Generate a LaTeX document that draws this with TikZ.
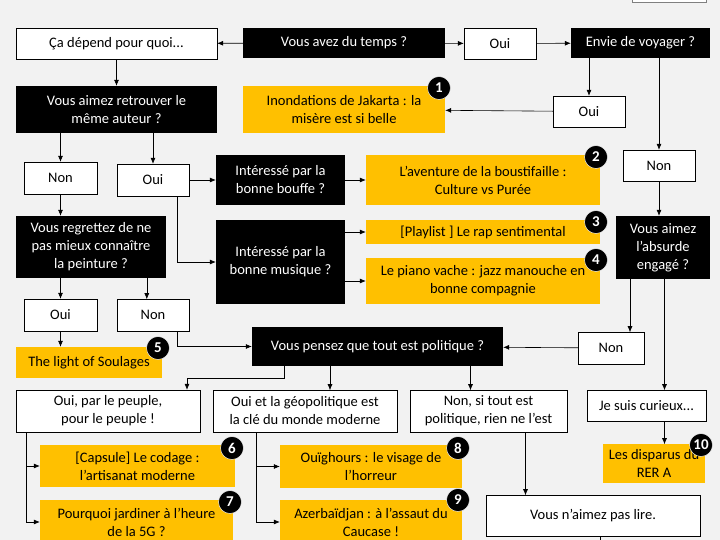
\documentclass[tikz,border=0pt]{standalone}
\usepackage{fontspec}
\setmainfont{Carlito}
\usetikzlibrary{arrows.meta}
\definecolor{fond}{HTML}{F2F2F2}
\definecolor{jaune}{HTML}{FFC000}
\tikzset{%
  q/.style = {rectangle,fill=black,text=white,inner sep=0pt,align=center},
  r/.style = {rectangle,draw,fill=white,inner sep=0pt,align=center},
  a/.style = {rectangle,fill=jaune,inner sep=0pt,align=center},
  num/.style = {circle,fill=black,draw=white,text=white,inner sep=0pt,
        minimum size=23pt,font=\fontsize{15}{16}\selectfont\bfseries},
  fl/.style = {-{Latex[length=6pt,width=5pt]},line width=0.6pt}
}
\newcommand{\bx}[7]{\node[#1,minimum width=#4pt,minimum height=#5pt] (#2) at (#3) {#6};}
\begin{document}
\begin{tikzpicture}[x=1pt,y=-1pt,font=\fontsize{14.5}{18}\selectfont]
    \fill[fond] (0,0) rectangle (720,540);
    \useasboundingbox (0,0) rectangle (720,540);
    \draw[gray,fill=white] (632,-5) rectangle (706,2);
    % top rows
    \bx{r}{depend}{116.5,43.5}{201}{31}{Ça dépend pour quoi...}{}
    \bx{q}{temps}{344,43}{202}{30}{Vous avez du temps ?}{}
    \bx{r}{oui1}{500,43.5}{72}{31}{Oui}{}
    \bx{q}{voyage}{640.5,43}{139}{30}{Envie de voyager ?}{}
    \bx{q}{auteur}{116.5,109.5}{201}{47}{Vous aimez retrouver le\\même auteur ?}{}
    \bx{a}{jakarta}{344,109.5}{202}{47}{Inondations de Jakarta : la\\misère est si belle}{}
    \bx{r}{oui2}{589,111.5}{72}{31}{Oui}{}
    \bx{r}{non1}{60.5,178}{73}{32}{Non}{}
    \bx{r}{oui3}{153,180}{72}{32}{Oui}{}
    \bx{q}{bouffe}{280.5,180}{129}{50}{Intéressé par la\\bonne bouffe ?}{}
    \bx{a}{aventure}{483,180}{234}{50}{L’aventure de la boustifaille :\\Culture vs Purée}{}
    \bx{r}{non2}{659,165.5}{72}{31}{Non}{}
    % middle rows
    \bx{q}{peinture}{91,247}{150}{62}{Vous regrettez de ne\\pas mieux connaître\\la peinture ?}{}
    \bx{q}{musique}{280.5,262}{129}{84}{Intéressé par la\\bonne musique ?}{}
    \bx{a}{playlist}{483,232}{234}{24}{[Playlist ] Le rap sentimental}{}
    \bx{a}{piano}{483,281}{234}{46}{Le piano vache : jazz manouche en\\bonne compagnie}{}
    \bx{q}{absurde}{663,247.5}{94}{63}{Vous aimez\\l’absurde\\engagé ?}{}
    \bx{r}{oui4}{60.5,315}{73}{32}{Oui}{}
    \bx{r}{non3}{153,315}{72}{32}{Non}{}
    \bx{a}{soulages}{89,362.5}{146}{31}{The light of Soulages}{}
    \bx{q}{politique}{377.5,346.5}{251}{39}{Vous pensez que tout est politique ?}{}
    \bx{r}{non4}{611,348}{66}{32}{Non}{}
    % bottom rows
    \bx{r}{peuple}{108,411}{184}{42}{Oui, par le peuple,\\pour le peuple !}{}
    \bx{r}{geo}{305,411}{184}{42}{Oui et la géopolitique est\\la clé du monde moderne}{}
    \bx{r}{nonsi}{488.5,411}{157}{42}{Non, si tout est\\politique, rien ne l’est}{}
    \bx{r}{curieux}{646.5,405.5}{119}{31}{Je suis curieux...}{}
    \bx{a}{capsule}{137.5,466}{195}{42}{[Capsule] Le codage :\\l’artisanat moderne}{}
    \bx{a}{jardin}{136.5,522}{193}{44}{Pourquoi jardiner à l’heure\\de la 5G ?}{}
    \bx{a}{ouighours}{371,466.5}{182}{43}{Ouïghours : le visage de\\l’horreur}{}
    \bx{a}{azer}{371,522}{182}{44}{Azerbaïdjan : à l’assaut du\\Caucase !}{}
    \bx{a}{disparus}{654,463.5}{102}{39}{Les disparus du\\RER A}{}
    \bx{r}{lire}{593,516}{214}{41}{Vous n’aimez pas lire.}{}
    % numbers
    \node[num] (n1) at (439,88) {1};
    \node[num] (n2) at (596,157) {2};
    \node[num] (n3) at (596,222) {3};
    \node[num] (n4) at (596,260) {4};
    \node[num] (n5) at (158,348) {5};
    \node[num] (n6) at (232,448) {6};
    \node[num] (n7) at (230,502) {7};
    \node[num] (n8) at (458,448) {8};
    \node[num] (n9) at (458,500) {9};
    \node[num] (n10) at (701,445) {10};
    % arrows
    \draw[fl] (temps) -- (depend);
    \draw[fl] (temps) -- (oui1);
    \draw[fl] (oui1) -- (voyage);
    \draw[fl] (voyage.south -| oui2) -- (oui2);
    \draw[fl] (oui2) -- (jakarta);
    \draw[fl] (voyage.south -| non2) -- (non2);
    \draw[fl] (non2) -- (absurde.north -| non2);
    \draw[fl] (depend.south) -- (auteur.north);
    \draw[fl] (auteur.south -| non1) -- (non1);
    \draw[fl] (auteur.south -| oui3) -- (oui3);
    \draw[fl] (oui3) -- (bouffe);
    \draw[fl] (bouffe) -- (aventure);
    \draw[fl] ([xshift=24pt]oui3.south) |- (musique.west);
    \draw[fl] (musique.east |- playlist) -- (playlist);
    \draw[fl] (musique.east |- piano) -- (piano);
    \draw[fl] (non1) -- (peinture.north -| non1);
    \draw[fl] (peinture.south -| oui4) -- (oui4);
    \draw[fl] (peinture.south -| non3.west) ++(30,0) -- ++(0,21);
    \draw[fl] (oui4) -- (soulages.north -| oui4);
    \draw[fl] ([xshift=24pt]non3.south) |- (politique.west);
    \draw[fl] ([xshift=-33pt]absurde.south) -- ++(0,53);
    \draw[fl] (non4) -- (politique);
    \draw[fl] (absurde.south -| curieux.north) ++(18,0) -- ++(0,111);
    \draw[fl] ([xshift=-93pt]politique.south) -- ++(0,12) -| ([xshift=79pt]peuple.north);
    \draw[fl] (politique.south -| geo.north) ++(25,0) -- ++(0,24);
    \draw[fl] (politique.south -| nonsi.north) ++(-18,0) -- ++(0,24);
    \draw[fl] ([xshift=-82pt]peuple.south) |- (capsule.west);
    \draw[fl] ([xshift=-82pt]peuple.south) |- (jardin.west);
    \draw[fl] ([xshift=-49pt]geo.south) |- (ouighours.west);
    \draw[fl] ([xshift=-49pt]geo.south) |- (azer.west);
    \draw[fl] ([xshift=37pt]nonsi.south) -- ++(0,63);
    \draw[fl] (curieux.south) ++(18,0) -- ++(0,23);
    \draw[line width=0.6pt] ([xshift=7pt]lire.south) -- ++(0,6);
\end{tikzpicture}
\end{document}
